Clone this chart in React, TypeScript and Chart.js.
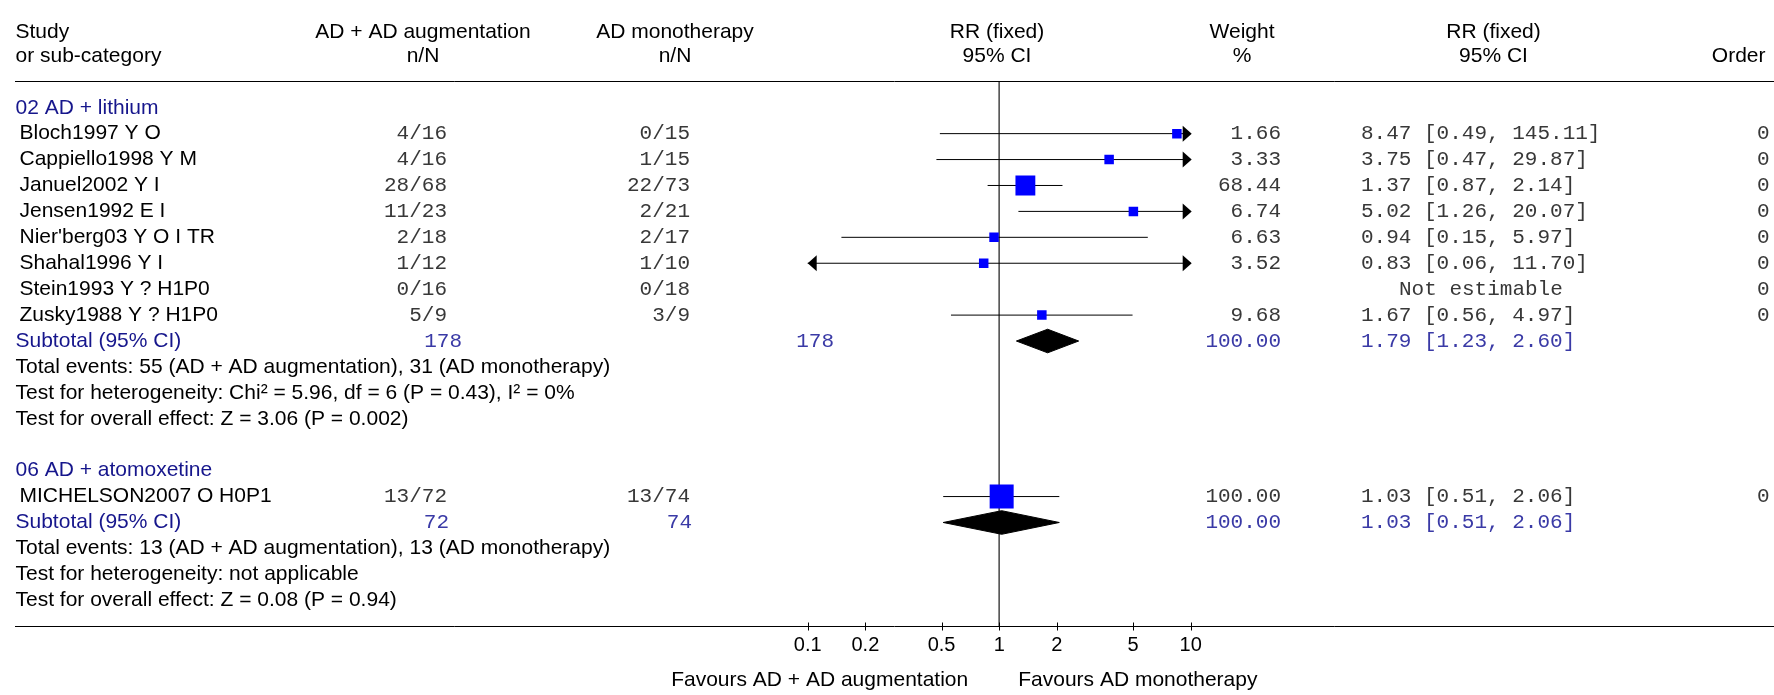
import React, { useEffect, useRef } from "react";
import { Chart, registerables } from "chart.js";
Chart.register(...registerables);

const W = 1774;
const H = 695;

// ---------------- data ----------------
const groupNames = ["02 AD + lithium", "06 AD + atomoxetine"];
const studyNames = [
  "Bloch1997 Y O",
  "Cappiello1998 Y M",
  "Januel2002 Y I",
  "Jensen1992 E I",
  "Nier'berg03 Y O I TR",
  "Shahal1996 Y I",
  "Stein1993 Y ? H1P0",
  "Zusky1988 Y ? H1P0",
  "MICHELSON2007 O H0P1",
];
const studyGroup = [0, 0, 0, 0, 0, 0, 0, 0, 1];
const treatNN = ["4/16", "4/16", "28/68", "11/23", "2/18", "1/12", "0/16", "5/9", "13/72"];
const ctrlNN = ["0/15", "1/15", "22/73", "2/21", "2/17", "1/10", "0/18", "3/9", "13/74"];
const weights: (number | null)[] = [1.66, 3.33, 68.44, 6.74, 6.63, 3.52, null, 9.68, 100.0];
const rrEst: (number | null)[] = [8.47, 3.75, 1.37, 5.02, 0.94, 0.83, null, 1.67, 1.03];
const rrLow: (number | null)[] = [0.49, 0.47, 0.87, 1.26, 0.15, 0.06, null, 0.56, 0.51];
const rrHigh: (number | null)[] = [145.11, 29.87, 2.14, 20.07, 5.97, 11.7, null, 4.97, 2.06];
const orderVals = ["0", "0", "0", "0", "0", "0", "0", "0", "0"];
const subTreatTotal = ["178", "72"];
const subCtrlTotal = ["178", "74"];
const subWeight = [100.0, 100.0];
const subEst = [1.79, 1.03];
const subLow = [1.23, 0.51];
const subHigh = [2.6, 2.06];
const totalEventsText = [
  "Total events: 55 (AD + AD augmentation), 31 (AD monotherapy)",
  "Total events: 13 (AD + AD augmentation), 13 (AD monotherapy)",
];
const heterogeneityText = [
  "Test for heterogeneity: Chi² = 5.96, df = 6 (P = 0.43), I² = 0%",
  "Test for heterogeneity: not applicable",
];
const overallText = [
  "Test for overall effect: Z = 3.06 (P = 0.002)",
  "Test for overall effect: Z = 0.08 (P = 0.94)",
];
const axisTicks = [0.1, 0.2, 0.5, 1, 2, 5, 10];
const axisTickLabels = ["0.1", "0.2", "0.5", "1", "2", "5", "10"];
const favoursLeft = "Favours AD + AD augmentation";
const favoursRight = "Favours AD monotherapy";
const xMin = 0.1;
const xMax = 10;

// ---------------- styles ----------------
const SANS = "21px 'Liberation Sans', Arial, sans-serif";
const SANS_TICK = "20px 'Liberation Sans', Arial, sans-serif";
const MONO = "21px 'Liberation Mono', 'Courier New', monospace";
const NAVY = "#16168c";
const BLUE_TXT = "#3a3aa6";
const MONO_COL = "#383838";
const SQUARE = "#0000ff";

// subtotal total columns (right edges), per group
const subTreatRight = [462, 449];
const subCtrlRight = [834, 692];

export default function App() {
  const ref = useRef<HTMLCanvasElement>(null);

  useEffect(() => {
    const canvas = ref.current;
    if (!canvas) return;

    // row layout
    const studyRow: number[] = [];
    const groupRow: number[] = [];
    const subRow: number[] = [];
    let r = 0;
    for (let g = 0; g < groupNames.length; g++) {
      groupRow.push(r);
      r++;
      for (let i = 0; i < studyNames.length; i++) {
        if (studyGroup[i] === g) {
          studyRow[i] = r;
          r++;
        }
      }
      subRow.push(r);
      r += 4; // subtotal + 3 stats rows
      r += 1; // blank
    }
    const axisRow = r - 1; // 20
    const headerLineRow = -1;

    const datasets: any[] = [];

    // squares
    const sqData: any[] = [];
    const sqRadius: number[] = [];
    studyNames.forEach((_, i) => {
      const e = rrEst[i];
      const w = weights[i];
      if (e == null || w == null) return;
      sqData.push({ x: e, y: studyRow[i] });
      const side = Math.max(9.5, 24 * Math.sqrt(w / 100));
      sqRadius.push(side / (2 * Math.SQRT1_2));
    });
    datasets.push({
      type: "scatter",
      data: sqData,
      pointStyle: "rect",
      pointRadius: sqRadius,
      pointBackgroundColor: SQUARE,
      pointBorderWidth: 0,
      backgroundColor: SQUARE,
      borderWidth: 0,
      order: 0,
    });

    // diamonds
    groupNames.forEach((_, g) => {
      const y = subRow[g];
      const h = 0.455;
      datasets.push({
        type: "line",
        data: [
          { x: subLow[g], y },
          { x: subEst[g], y: y - h },
          { x: subHigh[g], y },
          { x: subEst[g], y: y + h },
          { x: subLow[g], y },
        ],
        borderColor: "#000",
        backgroundColor: "#000",
        borderWidth: 1,
        pointRadius: 0,
        tension: 0,
        fill: "shape",
        order: 1,
      });
    });

    // CI lines
    studyNames.forEach((_, i) => {
      const lo = rrLow[i];
      const hi = rrHigh[i];
      if (lo == null || hi == null) return;
      datasets.push({
        type: "line",
        data: [
          { x: lo, y: studyRow[i] },
          { x: hi, y: studyRow[i] },
        ],
        borderColor: "#000",
        borderWidth: 1,
        pointRadius: 0,
        fill: false,
        order: 2,
      });
    });

    // vertical line of no effect
    datasets.push({
      type: "line",
      data: [
        { x: 1, y: headerLineRow },
        { x: 1, y: axisRow },
      ],
      borderColor: "#555",
      borderWidth: 1,
      pointRadius: 0,
      fill: false,
      order: 3,
    });

    const txt = (
      ctx: CanvasRenderingContext2D,
      s: string,
      x: number,
      y: number,
      align: CanvasTextAlign,
      font: string,
      color: string
    ) => {
      ctx.font = font;
      ctx.fillStyle = color;
      ctx.textAlign = align;
      ctx.textBaseline = "middle";
      ctx.fillText(s, x, y);
    };

    const forestPlugin = {
      id: "forest",
      beforeDraw(chart: any) {
        const ctx = chart.ctx;
        ctx.save();
        ctx.fillStyle = "#fff";
        ctx.fillRect(0, 0, chart.width, chart.height);
        ctx.restore();
      },
      afterDatasetsDraw(chart: any) {
        const ctx: CanvasRenderingContext2D = chart.ctx;
        const xs = chart.scales.x;
        const ys = chart.scales.y;
        ctx.save();
        ctx.fillStyle = "#000";
        studyNames.forEach((_, i) => {
          const lo = rrLow[i];
          const hi = rrHigh[i];
          if (lo == null || hi == null) return;
          const y = ys.getPixelForValue(studyRow[i]);
          if (hi > xMax) {
            const tip = xs.getPixelForValue(xMax) + 1;
            ctx.beginPath();
            ctx.moveTo(tip, y);
            ctx.lineTo(tip - 9, y - 8);
            ctx.lineTo(tip - 9, y + 8);
            ctx.closePath();
            ctx.fill();
          }
          if (lo < xMin) {
            const tip = xs.getPixelForValue(xMin);
            ctx.beginPath();
            ctx.moveTo(tip, y);
            ctx.lineTo(tip + 9, y - 8);
            ctx.lineTo(tip + 9, y + 8);
            ctx.closePath();
            ctx.fill();
          }
        });
        ctx.restore();
      },
      afterDraw(chart: any) {
        const ctx: CanvasRenderingContext2D = chart.ctx;
        const xs = chart.scales.x;
        const ys = chart.scales.y;
        const Y = (row: number) => ys.getPixelForValue(row);
        ctx.save();

        // header
        const h1 = Y(-2.9);
        const h2 = Y(-2.0);
        txt(ctx, "Study", 15.5, h1, "left", SANS, "#000");
        txt(ctx, "or sub-category", 15.5, h2, "left", SANS, "#000");
        txt(ctx, "AD + AD augmentation", 423, h1, "center", SANS, "#000");
        txt(ctx, "n/N", 423, h2, "center", SANS, "#000");
        txt(ctx, "AD monotherapy", 675, h1, "center", SANS, "#000");
        txt(ctx, "n/N", 675, h2, "center", SANS, "#000");
        txt(ctx, "RR (fixed)", 997, h1, "center", SANS, "#000");
        txt(ctx, "95% CI", 997, h2, "center", SANS, "#000");
        txt(ctx, "Weight", 1242, h1, "center", SANS, "#000");
        txt(ctx, "%", 1242, h2, "center", SANS, "#000");
        txt(ctx, "RR (fixed)", 1493.5, h1, "center", SANS, "#000");
        txt(ctx, "95% CI", 1493.5, h2, "center", SANS, "#000");
        txt(ctx, "Order", 1765.5, h2, "right", SANS, "#000");

        // horizontal rules
        ctx.strokeStyle = "#000";
        ctx.lineWidth = 1;
        const hy = Math.round(Y(headerLineRow)) - 0.5;
        ctx.beginPath();
        ctx.moveTo(15, hy);
        ctx.lineTo(chart.width, hy);
        ctx.stroke();
        const ay = Math.round(Y(axisRow)) + 0.5;
        ctx.beginPath();
        ctx.moveTo(15, ay);
        ctx.lineTo(chart.width, ay);
        ctx.stroke();

        // axis ticks + labels
        axisTicks.forEach((v, k) => {
          const px = Math.round(xs.getPixelForValue(v)) + 0.5;
          ctx.beginPath();
          ctx.moveTo(px, ay - 4);
          ctx.lineTo(px, ay + 4);
          ctx.stroke();
          txt(ctx, axisTickLabels[k], xs.getPixelForValue(v), Y(axisRow + 0.75), "center", SANS_TICK, "#000");
        });
        const oneX = xs.getPixelForValue(1);
        txt(ctx, favoursLeft, oneX - 31, Y(axisRow + 2.08), "right", SANS, "#000");
        txt(ctx, favoursRight, oneX + 19, Y(axisRow + 2.08), "left", SANS, "#000");

        // rows
        groupNames.forEach((gName, g) => {
          txt(ctx, gName, 15.5, Y(groupRow[g]), "left", SANS, NAVY);
          const sr = subRow[g];
          txt(ctx, "Subtotal (95% CI)", 15.5, Y(sr), "left", SANS, NAVY);
          txt(ctx, subTreatTotal[g], subTreatRight[g], Y(sr), "right", MONO, BLUE_TXT);
          txt(ctx, subCtrlTotal[g], subCtrlRight[g], Y(sr), "right", MONO, BLUE_TXT);
          txt(ctx, subWeight[g].toFixed(2), 1281, Y(sr), "right", MONO, BLUE_TXT);
          txt(
            ctx,
            `${subEst[g].toFixed(2)} [${subLow[g].toFixed(2)}, ${subHigh[g].toFixed(2)}]`,
            1361,
            Y(sr),
            "left",
            MONO,
            BLUE_TXT
          );
          txt(ctx, totalEventsText[g], 15.5, Y(sr + 1), "left", SANS, "#000");
          txt(ctx, heterogeneityText[g], 15.5, Y(sr + 2), "left", SANS, "#000");
          txt(ctx, overallText[g], 15.5, Y(sr + 3), "left", SANS, "#000");
        });

        studyNames.forEach((name, i) => {
          const y = Y(studyRow[i]);
          txt(ctx, name, 19.5, y, "left", SANS, "#000");
          txt(ctx, treatNN[i], 447, y, "right", MONO, MONO_COL);
          txt(ctx, ctrlNN[i], 690, y, "right", MONO, MONO_COL);
          const w = weights[i];
          const e = rrEst[i];
          const lo = rrLow[i];
          const hi = rrHigh[i];
          if (w != null) txt(ctx, w.toFixed(2), 1281, y, "right", MONO, MONO_COL);
          if (e != null && lo != null && hi != null) {
            txt(ctx, `${e.toFixed(2)} [${lo.toFixed(2)}, ${hi.toFixed(2)}]`, 1361, y, "left", MONO, MONO_COL);
          } else {
            txt(ctx, "Not estimable", 1399, y, "left", MONO, MONO_COL);
          }
          txt(ctx, orderVals[i], 1769.5, y, "right", MONO, MONO_COL);
        });

        ctx.restore();
      },
    };

    const padLeft = 807.7;
    const padRight = W - 1190.7;
    const yMinRow = -3.5;
    const yMaxRow = 22;
    const rowH = 26.4;
    const firstRowPx = 101.6;
    const padTop = firstRowPx + yMinRow * rowH;
    const padBottom = H - (firstRowPx + yMaxRow * rowH);

    const chart = new Chart(canvas, {
      type: "scatter",
      data: { datasets },
      options: {
        animation: false,
        responsive: false,
        devicePixelRatio: 1,
        layout: { padding: { left: padLeft, right: padRight, top: padTop, bottom: padBottom } },
        plugins: { legend: { display: false }, tooltip: { enabled: false } },
        events: [],
        scales: {
          x: { type: "logarithmic", min: xMin, max: xMax, display: false },
          y: { type: "linear", min: yMinRow, max: yMaxRow, reverse: true, display: false },
        },
      } as any,
      plugins: [forestPlugin],
    });

    return () => chart.destroy();
  }, []);

  return (
    <div style={{ position: "fixed", left: 0, top: 0, width: W, height: H, background: "#fff" }}>
      <canvas ref={ref} width={W} height={H} style={{ width: W, height: H, display: "block" }} />
    </div>
  );
}
